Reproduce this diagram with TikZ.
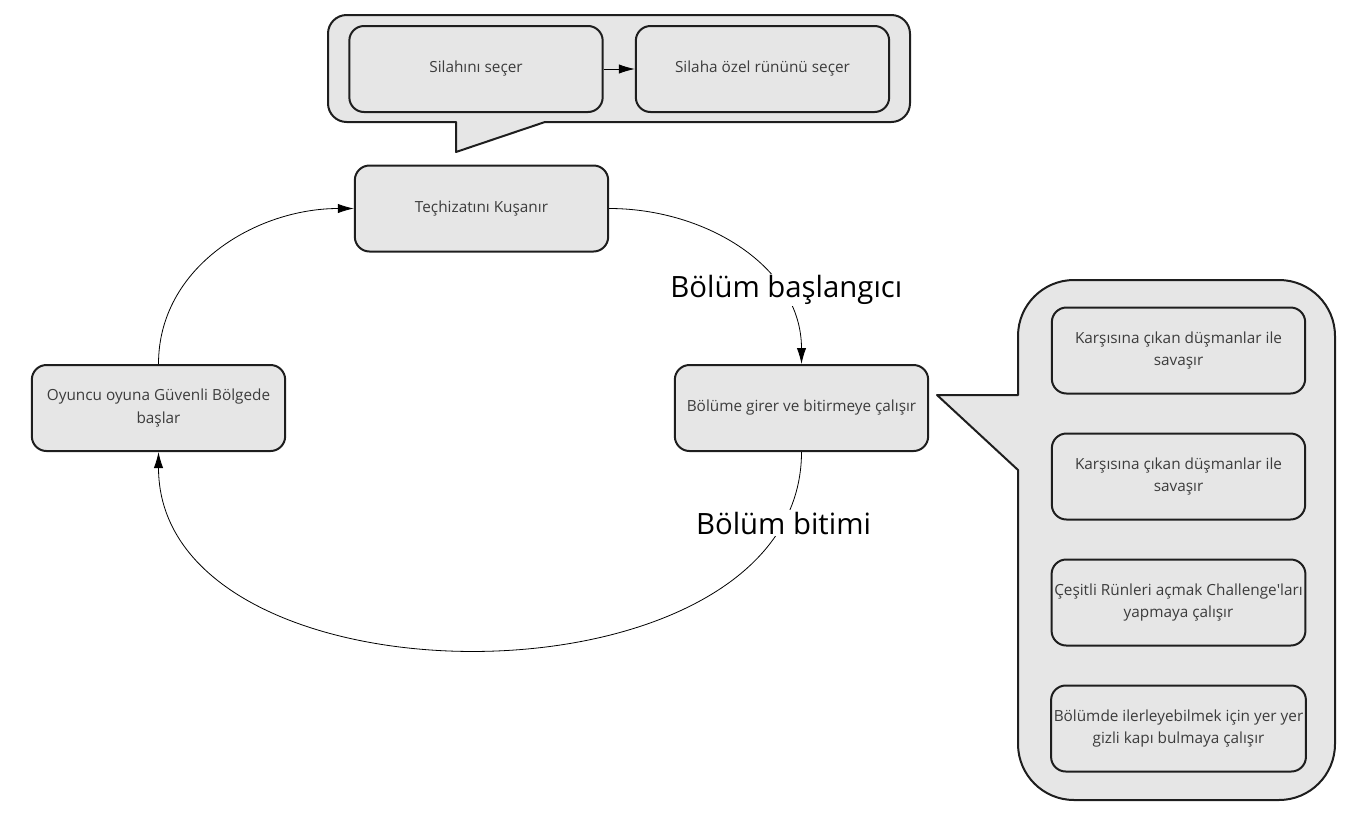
\documentclass[tikz,border=0pt]{standalone}
\usepackage{fontspec}
\setmainfont{Open Sans}
\usetikzlibrary{arrows.meta}

\definecolor{boxfill}{HTML}{E6E6E6}
\definecolor{boxline}{HTML}{1E1E1E}
\definecolor{boxtext}{HTML}{3C3C3C}

\begin{document}
\begin{tikzpicture}[x=0.75pt, y=0.75pt,
  stagebox/.style={draw=boxline, fill=boxfill, line width=1.5pt,
    rounded corners=11pt, minimum width=190pt, minimum height=64.5pt,
    align=center, text=boxtext, inner sep=2pt,
    font=\fontsize{11.5}{17}\selectfont},
  bubble/.style={draw=boxline, fill=boxfill, line width=1.5pt, line join=round},
  flow/.style={-{Latex[length=12pt,width=7pt]}, black, line width=0.6pt},
  lbl/.style={fill=white, text=black, inner sep=1pt,
    font=\fontsize{22}{26}\selectfont}]

  \useasboundingbox (0,0) rectangle (1360,-818);

  % Speech bubbles
  \draw [bubble, rounded corners=14pt]
    (700,-15) -- (328,-15) -- (328,-122)
    [sharp corners] -- (456,-122) -- (456,-152) -- (545,-122)
    [rounded corners=14pt] -- (910,-122) -- (910,-15) -- cycle;

  \draw [bubble, rounded corners=42pt]
    (1176,-280) -- (1018,-280)
    [sharp corners] -- (1018,-395) -- (937,-395) -- (1018,-470)
    [rounded corners=42pt] -- (1018,-800) -- (1335,-800) -- (1335,-280) -- cycle;

  % Loop steps
  \node [stagebox] (weapon) at (476,-69) {Silahını seçer};
  \node [stagebox] (rune) at (762.5,-69) {Silaha özel rününü seçer};
  \node [stagebox] (equip) at (481.5,-208.5) {Teçhizatını Kuşanır};
  \node [stagebox] (spawn) at (158.5,-408) {Oyuncu oyuna Güvenli Bölgede\\başlar};
  \node [stagebox] (level) at (801.5,-408) {Bölüme girer ve bitirmeye çalışır};

  % Level tasks
  \node [stagebox] (fightA) at (1178.5,-350.5) {Karşısına çıkan düşmanlar ile\\savaşır};
  \node [stagebox] (fightB) at (1178.5,-476.5) {Karşısına çıkan düşmanlar ile\\savaşır};
  \node [stagebox] (runes) at (1178.5,-602.5) {Çeşitli Rünleri açmak Challenge\textquotesingle ları\\yapmaya çalışır};
  \node [stagebox] (doors) at (1178.5,-728.5) {Bölümde ilerleyebilmek için yer yer\\gizli kapı bulmaya çalışır};

  % Connectors
  \draw [flow] (weapon) -- (rune);
  \draw [flow] (spawn.north) to[out=90, in=180] (equip.west);
  \draw [flow] (equip.east) to[out=0, in=90]
    node [lbl, pos=0.71, xshift=5pt] (lstart) {Bölüm başlangıcı} (level.north);
  \draw [flow] (level.south) to[out=-90, in=-90, looseness=1.05]
    node [lbl, pos=0.1] (lend) {Bölüm bitimi} (spawn.south);

\end{tikzpicture}
\end{document}
